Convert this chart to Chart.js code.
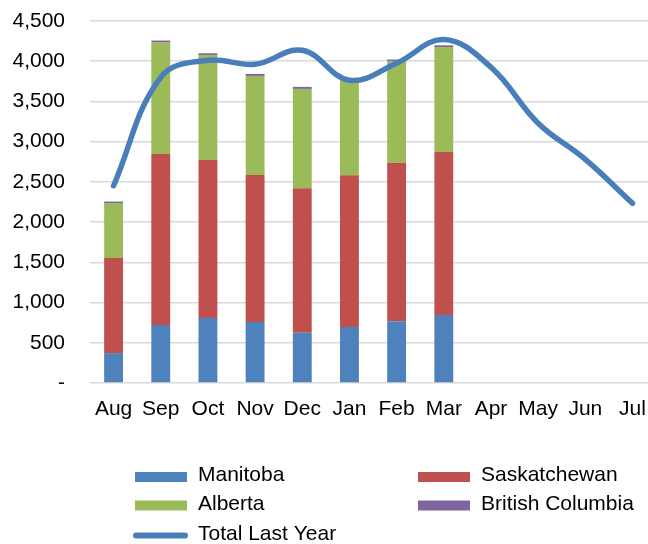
<!DOCTYPE html>
<html>
<head>
<meta charset="utf-8">
<script src="https://cdn.jsdelivr.net/npm/chart.js@4/dist/chart.umd.min.js"></script>
<style>
  html, body { margin: 0; padding: 0; background: #fff; overflow: hidden; width: 648px; height: 544px; }
  #wrap { width: 660px; height: 544px; }
</style>
</head>
<body>
<div id="wrap"><canvas id="c" width="660" height="544"></canvas></div>
<script>
const categories = ['Aug','Sep','Oct','Nov','Dec','Jan','Feb','Mar','Apr','May','Jun','Jul'];
const manitoba     = [372, 720, 807, 757, 624, 695, 769, 844, null, null, null, null];
const saskatchewan = [1183, 2126, 1968, 1828, 1796, 1886, 1969, 2026, null, null, null, null];
const alberta      = [683, 1386, 1303, 1232, 1236, 1180, 1258, 1307, null, null, null, null];
const britishColumbia = [18, 25, 21, 25, 25, 25, 25, 21, null, null, null, null];
const totalLastYear = [2452, 3800, 4012, 3962, 4136, 3764, 3975, 4269, 3925, 3230, 2780, 2234];
const yTicks = { min: 0, max: 4500, step: 500 };

const FONT = "'Liberation Sans', Arial, sans-serif";
const FS = 21;

const legendPlugin = {
  id: 'customLegend',
  afterDraw(chart) {
    const ctx = chart.ctx;
    const ds = chart.data.datasets;
    const byLabel = {};
    ds.forEach(d => byLabel[d.label] = d);
    const items = [
      { label: 'Manitoba', x: 135, y: 477 },
      { label: 'Saskatchewan', x: 418, y: 477 },
      { label: 'Alberta', x: 135, y: 505.5 },
      { label: 'British Columbia', x: 418, y: 505.5 },
      { label: 'Total Last Year', x: 135, y: 535.5 }
    ];
    ctx.save();
    ctx.font = FS + 'px ' + FONT;
    ctx.textBaseline = 'middle';
    ctx.textAlign = 'left';
    items.forEach(it => {
      const d = byLabel[it.label];
      if (d.type === 'line') {
        ctx.strokeStyle = d.borderColor;
        ctx.lineWidth = 6;
        ctx.lineCap = 'round';
        ctx.beginPath();
        ctx.moveTo(it.x + 1, it.y);
        ctx.lineTo(it.x + 50, it.y);
        ctx.stroke();
      } else {
        ctx.fillStyle = d.backgroundColor;
        ctx.fillRect(it.x, it.y - 5, 52, 10);
      }
      ctx.fillStyle = '#000';
      ctx.fillText(it.label, it.x + 63, it.y - 1.5);
    });
    ctx.restore();
  }
};

const barCommon = { type: 'bar', stack: 'bars', order: 1, barPercentage: 0.4, categoryPercentage: 1.0, borderWidth: 0 };

new Chart(document.getElementById('c'), {
  data: {
    labels: categories,
    datasets: [
      { type: 'line', label: 'Total Last Year', data: totalLastYear, stack: 'line', order: 0,
        borderColor: '#4A7EBB', backgroundColor: '#4A7EBB', borderWidth: 5.5, tension: 0.4,
        pointRadius: 0, borderCapStyle: 'round', borderJoinStyle: 'round', fill: false },
      Object.assign({ label: 'Manitoba', data: manitoba, backgroundColor: '#4F81BD' }, barCommon),
      Object.assign({ label: 'Saskatchewan', data: saskatchewan, backgroundColor: '#C0504D' }, barCommon),
      Object.assign({ label: 'Alberta', data: alberta, backgroundColor: '#9BBB59' }, barCommon),
      Object.assign({ label: 'British Columbia', data: britishColumbia, backgroundColor: '#8064A2' }, barCommon)
    ]
  },
  options: {
    responsive: false,
    animation: false,
    devicePixelRatio: 1,
    layout: { padding: { left: 0, right: 2, top: 21, bottom: 121 } },
    plugins: { legend: { display: false }, tooltip: { enabled: false }, title: { display: false } },
    scales: {
      x: {
        stacked: true,
        offset: true,
        grid: { display: false, drawTicks: false },
        border: { display: false },
        ticks: { color: '#000', font: { family: FONT, size: FS }, padding: 14, maxRotation: 0, autoSkip: false },
        afterFit(s) { s.height = 40; }
      },
      y: {
        stacked: true,
        min: yTicks.min, max: yTicks.max,
        grid: { color: '#D9D9D9', lineWidth: 1.5, drawTicks: true, tickLength: 25, tickColor: 'rgba(0,0,0,0)' },
        border: { display: false },
        ticks: {
          stepSize: yTicks.step, color: '#000', font: { family: FONT, size: FS }, padding: 0,
          callback: v => v === 0 ? '-' : v.toLocaleString('en-US')
        },
        afterFit(s) { s.width = 90; }
      }
    }
  },
  plugins: [legendPlugin]
});
</script>
</body>
</html>
